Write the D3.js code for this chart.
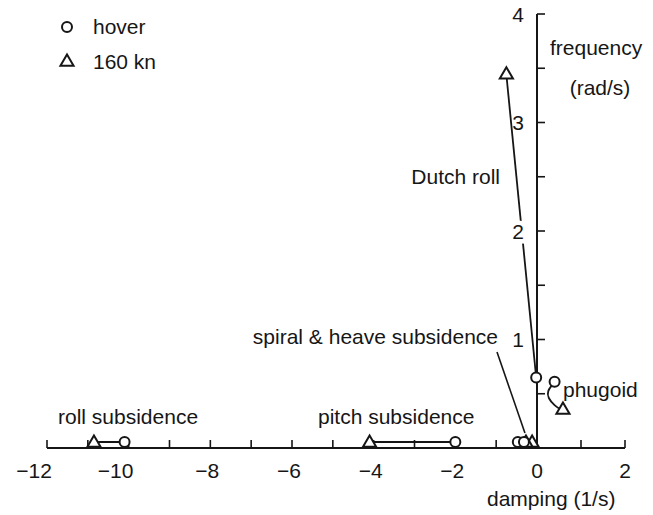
<!DOCTYPE html>
<html>
<head>
<meta charset="utf-8">
<script src="https://cdn.jsdelivr.net/npm/d3@7"></script>
<style>
  html, body { margin: 0; padding: 0; background: #fff; }
  svg { display: block; }
  text { font-family: "Liberation Sans", Arial, Helvetica, sans-serif; font-size: 21px; fill: #161616; }
</style>
</head>
<body>
<svg id="chart" width="653" height="515"></svg>
<script>
// Helicopter stability roots: hover vs 160 kn forward flight
const modes        = ["roll subsidence", "pitch subsidence", "spiral subsidence", "heave subsidence", "Dutch roll", "phugoid"];
const hoverDamping = [-10.1, -2.0, -0.47, -0.32, -0.02, 0.40];
const hoverFreq    = [0, 0, 0, 0, 0.65, 0.61];
const fwdDamping   = [-10.85, -4.1, -0.12, -0.27, -0.75, 0.59];
const fwdFreq      = [0, 0, 0, 0, 3.44, 0.35];

const xTicks  = d3.range(-12, 3, 1);
const xLabels = [-12, -10, -8, -6, -4, -2, 0, 2];
const yTicks  = d3.range(0, 4.01, 0.5);
const yLabels = [1, 2, 3, 4];
const legendLabels = ["hover", "160 kn"];

const svg = d3.select("#chart");
const ink = "#161616";

// damping axis: hand-drawn spacing is slightly wider to the right of zero
const x = d3.scaleLinear().domain([-12, 0, 2]).range([47, 537, 625]);
const y = d3.scaleLinear().domain([0, 4]).range([448, 14]);

const R = 5;                 // circle marker radius
const lift = R + 1;          // markers on the real axis sit on top of it
const py = f => f === 0 ? y(0) - lift : y(f);

// ---- damping (horizontal) axis ----
svg.append("line")
  .attr("x1", x(-12)).attr("x2", x(2)).attr("y1", y(0)).attr("y2", y(0))
  .attr("stroke", ink).attr("stroke-width", 2);
svg.selectAll(".xtick").data(xTicks).join("line")
  .attr("x1", d => x(d)).attr("x2", d => x(d))
  .attr("y1", y(0)).attr("y2", y(0) - 8)
  .attr("stroke", ink).attr("stroke-width", 1.6);
// negative labels hang their minus sign to the left of the tick
svg.selectAll(".xlab").data(xLabels).join("text")
  .attr("x", d => x(d)).attr("y", y(0) + 30)
  .attr("dx", d => d <= -10 ? -13 : d < 0 ? -3 : 0)
  .attr("text-anchor", "middle")
  .text(d => d < 0 ? "\u2212" + Math.abs(d) : d);

// ---- frequency (vertical) axis ----
svg.append("line")
  .attr("x1", x(0)).attr("x2", x(0)).attr("y1", y(0)).attr("y2", y(4))
  .attr("stroke", ink).attr("stroke-width", 2);
svg.selectAll(".ytick").data(yTicks.filter(d => d > 0)).join("line")
  .attr("x1", x(0)).attr("x2", x(0) + 8)
  .attr("y1", d => y(d)).attr("y2", d => y(d))
  .attr("stroke", ink).attr("stroke-width", 1.6);

// ---- Dutch roll: hover -> 160 kn ----
const di = modes.indexOf("Dutch roll");
svg.append("line")
  .attr("x1", x(hoverDamping[di])).attr("y1", py(hoverFreq[di]))
  .attr("x2", x(fwdDamping[di])).attr("y2", py(fwdFreq[di]))
  .attr("stroke", ink).attr("stroke-width", 1.8);

// y tick labels; the line is broken where it runs through the "2"
svg.selectAll(".ylab").data(yLabels).join("text")
  .attr("x", x(0) - 13).attr("y", d => y(d)).attr("dy", "0.36em")
  .attr("text-anchor", "end")
  .attr("stroke", "#fff").attr("stroke-width", d => d === 2 ? 9 : 0).attr("paint-order", "stroke")
  .text(d => d);

// ---- roll and pitch subsidence: connecting bars ----
["roll subsidence", "pitch subsidence"].forEach(m => {
  const i = modes.indexOf(m);
  svg.append("line")
    .attr("x1", x(fwdDamping[i])).attr("x2", x(hoverDamping[i]))
    .attr("y1", py(fwdFreq[i])).attr("y2", py(hoverFreq[i]))
    .attr("stroke", ink).attr("stroke-width", 2);
});

// ---- phugoid: curved arrow from hover root to 160 kn root ----
const pi = modes.indexOf("phugoid");
const p0 = [x(hoverDamping[pi]), py(hoverFreq[pi])];
const p1 = [x(fwdDamping[pi]), py(fwdFreq[pi])];
svg.append("path")
  .attr("d", d3.line().curve(d3.curveBasis)([
    [p0[0] - 3, p0[1] + 4],
    [p0[0] - 7, p0[1] + 9],
    [p0[0] - 7, p0[1] + 16],
    [p1[0] - 8, p1[1] - 4],
    [p1[0] - 3, p1[1] - 1]
  ]))
  .attr("fill", "none").attr("stroke", ink).attr("stroke-width", 1.8);

// ---- markers ----
const tri = d3.symbol().type(d3.symbolTriangle).size(75);
svg.selectAll(".fwd").data(d3.range(modes.length)).join("path")
  .attr("transform", i => `translate(${x(fwdDamping[i])},${py(fwdFreq[i]) + (fwdFreq[i] === 0 ? 1 : 0)})`)
  .attr("d", tri())
  .attr("fill", "#fff").attr("stroke", ink).attr("stroke-width", 2);
svg.selectAll(".hov").data(d3.range(modes.length)).join("circle")
  .attr("cx", i => x(hoverDamping[i])).attr("cy", i => py(hoverFreq[i]))
  .attr("r", R)
  .attr("fill", "#fff").attr("stroke", ink).attr("stroke-width", 2);

// ---- mode labels ----
svg.append("text").attr("x", 58).attr("y", 424).text("roll subsidence");
svg.append("text").attr("x", 318).attr("y", 424).text("pitch subsidence");
svg.append("text").attr("x", 563).attr("y", 397).text("phugoid");
svg.append("text").attr("x", 500).attr("y", 184).attr("text-anchor", "end").text("Dutch roll");
svg.append("text").attr("x", 498).attr("y", 344).attr("text-anchor", "end").text("spiral & heave subsidence");

// leader from the spiral/heave label down to its roots
const hi = modes.indexOf("heave subsidence");
svg.append("line")
  .attr("x1", 497).attr("y1", 352)
  .attr("x2", x(hoverDamping[hi]) + 1).attr("y2", y(0) - 15)
  .attr("stroke", ink).attr("stroke-width", 1.6);

// ---- axis titles ----
svg.append("text").attr("x", 550).attr("y", 55).text("frequency");
svg.append("text").attr("x", 600).attr("y", 95).attr("text-anchor", "middle").text("(rad/s)");
svg.append("text").attr("x", 487).attr("y", 506).text("damping (1/s)");

// ---- legend ----
const lg = svg.append("g").attr("transform", "translate(67,27)");
lg.append("circle").attr("r", R).attr("fill", "#fff").attr("stroke", ink).attr("stroke-width", 2);
lg.append("path").attr("transform", "translate(0,35)").attr("d", tri())
  .attr("fill", "#fff").attr("stroke", ink).attr("stroke-width", 2);
lg.selectAll("text").data(legendLabels).join("text")
  .attr("x", 26).attr("y", (d, i) => i * 35).attr("dy", "0.35em")
  .text(d => d);
</script>
</body>
</html>
